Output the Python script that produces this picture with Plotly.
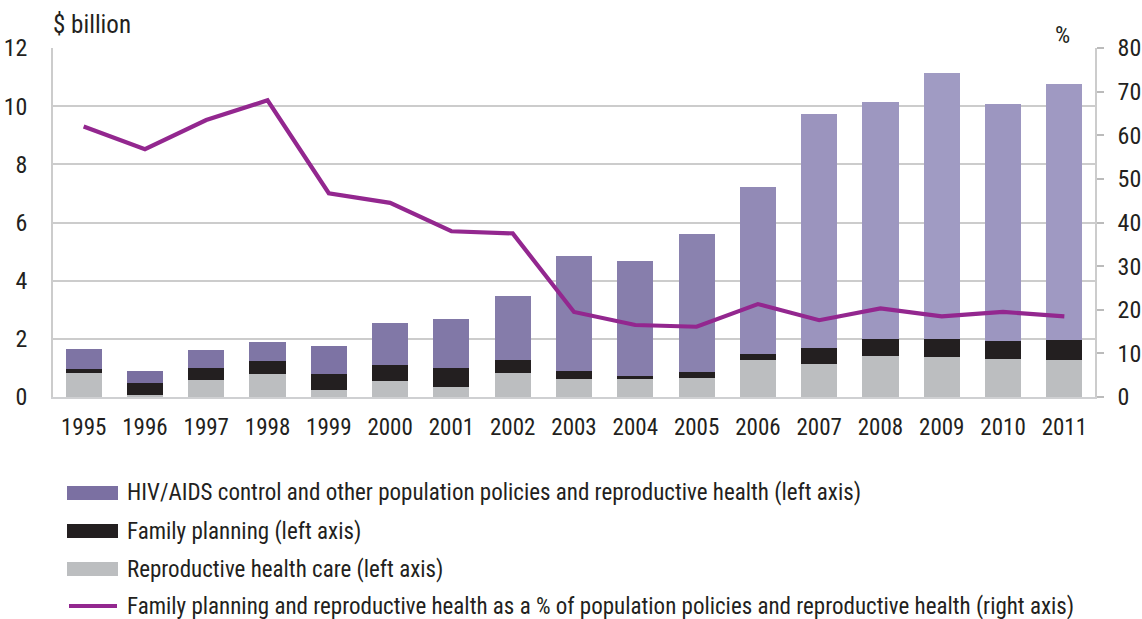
import plotly.graph_objects as go

years = [str(y) for y in range(1995, 2012)]
reproductive_care = [0.83, 0.06, 0.58, 0.79, 0.23, 0.54, 0.34, 0.83, 0.62, 0.62, 0.66, 1.27, 1.13, 1.41, 1.38, 1.31, 1.27]
family_planning = [0.13, 0.41, 0.41, 0.45, 0.56, 0.56, 0.65, 0.44, 0.27, 0.10, 0.21, 0.21, 0.56, 0.59, 0.62, 0.62, 0.70]
total_population = [1.65, 0.89, 1.62, 1.90, 1.76, 2.55, 2.69, 3.46, 4.84, 4.67, 5.60, 7.23, 9.73, 10.15, 11.15, 10.07, 10.77]
fp_rh_share = [62.0, 56.8, 63.5, 68.0, 46.7, 44.5, 38.0, 37.5, 19.5, 16.5, 16.1, 21.3, 17.6, 20.3, 18.5, 19.5, 18.5]

legend_labels = [
    "HIV/AIDS control and other population policies and reproductive health (left axis)",
    "Family planning (left axis)",
    "Reproductive health care (left axis)",
    "Family planning and reproductive health as a % of population policies and reproductive health (right axis)",
]

FONT = "Roboto Condensed, Liberation Sans Narrow, DejaVu Sans Condensed, Arial Narrow, sans-serif"
GREY = "#bcbec0"
BLACK = "#231f20"
LINE = "#93278f"
TXT = "#231f20"

# HIV/other segment = total minus the two lower segments
hiv_other = [t - r - f for t, r, f in zip(total_population, reproductive_care, family_planning)]

# emulate the vertical gradient: colour of each segment sampled at its mid-height
def lerp_color(v, vmax=12.0):
    a = (0x75, 0x6a, 0x9c)
    b = (0xc4, 0xc3, 0xe3)
    t = max(0.0, min(1.0, v / vmax))
    return "rgb(%d,%d,%d)" % tuple(round(a[i] + (b[i] - a[i]) * t) for i in range(3))

hiv_colors = [lerp_color((r + f + t) / 2) for r, f, t in zip(reproductive_care, family_planning, total_population)]

fig = go.Figure()
fig.add_trace(go.Bar(x=years, y=reproductive_care, name=legend_labels[2],
                     marker=dict(color=GREY, line=dict(width=0)), showlegend=False))
fig.add_trace(go.Bar(x=years, y=family_planning, name=legend_labels[1],
                     marker=dict(color=BLACK, line=dict(width=0)), showlegend=False))
fig.add_trace(go.Bar(x=years, y=hiv_other, name=legend_labels[0],
                     marker=dict(color=hiv_colors, line=dict(width=0)), showlegend=False))
fig.add_trace(go.Scatter(x=years, y=fp_rh_share, yaxis="y2", mode="lines", name=legend_labels[3],
                         line=dict(color=LINE, width=4.2), showlegend=False))

L, R, T, B = 53, 47, 48, 222
W, H = 1142, 619
PW, PH = W - L - R, H - T - B

def px(x):
    return (x - L) / PW

def py(y):
    return (H - B - y) / PH

annotations = [
    dict(text="$ billion", x=px(51), y=py(25), xref="paper", yref="paper", xanchor="left", yanchor="middle",
         showarrow=False, font=dict(family=FONT, size=25, color=TXT)),
    dict(text="%", x=px(1062), y=py(35), xref="paper", yref="paper", xanchor="center", yanchor="middle",
         showarrow=False, font=dict(family=FONT, size=24, color=TXT)),
]
shapes = []
rows = [493, 531, 569, 606]
swatch_colors = ["#7b70a2", BLACK, GREY]
for i, (label, yrow) in enumerate(zip(legend_labels, rows)):
    if i < 3:
        shapes.append(dict(type="rect", xref="paper", yref="paper", x0=px(67), x1=px(118),
                           y0=py(yrow - 7), y1=py(yrow + 7), fillcolor=swatch_colors[i], line=dict(width=0)))
    else:
        shapes.append(dict(type="line", xref="paper", yref="paper", x0=px(69), x1=px(117),
                           y0=py(yrow), y1=py(yrow), line=dict(color=LINE, width=4.2)))
    annotations.append(dict(text=label, x=px(125), y=py(yrow), xref="paper", yref="paper",
                            xanchor="left", yanchor="middle", showarrow=False,
                            font=dict(family=FONT, size=23, color=TXT)))

fig.update_layout(
    template="none",
    width=W, height=H,
    margin=dict(l=L, r=R, t=T, b=B, pad=0, autoexpand=False),
    barmode="stack", bargap=0.41,
    paper_bgcolor="white", plot_bgcolor="white",
    font=dict(family=FONT, size=23, color=TXT),
    showlegend=False,
    xaxis=dict(type="category", automargin=False, showline=True, linecolor="#cfd0d2", linewidth=2,
               ticks="", showgrid=False, zeroline=False, tickfont=dict(size=23), ticklabelstandoff=8),
    yaxis=dict(range=[0, 12], dtick=2, automargin=False, showgrid=True, gridcolor="#cccccc", gridwidth=1.5,
               showline=True, linecolor="#cccccc", linewidth=1.5, ticks="", zeroline=False,
               tickfont=dict(size=24), ticklabelstandoff=19),
    yaxis2=dict(range=[0, 80], dtick=10, automargin=False, overlaying="y", side="right", showgrid=False,
                showline=True, linecolor="#cccccc", linewidth=1.5, ticks="outside", ticklen=7,
                tickcolor="#bbbbbb", tickwidth=1.5, zeroline=False, tickfont=dict(size=24),
                ticklabelstandoff=9),
    annotations=annotations,
    shapes=shapes,
)

fig.write_html("out.html", config={"displayModeBar": False},
               post_script="document.body.style.margin='0';document.body.style.padding='0';")
